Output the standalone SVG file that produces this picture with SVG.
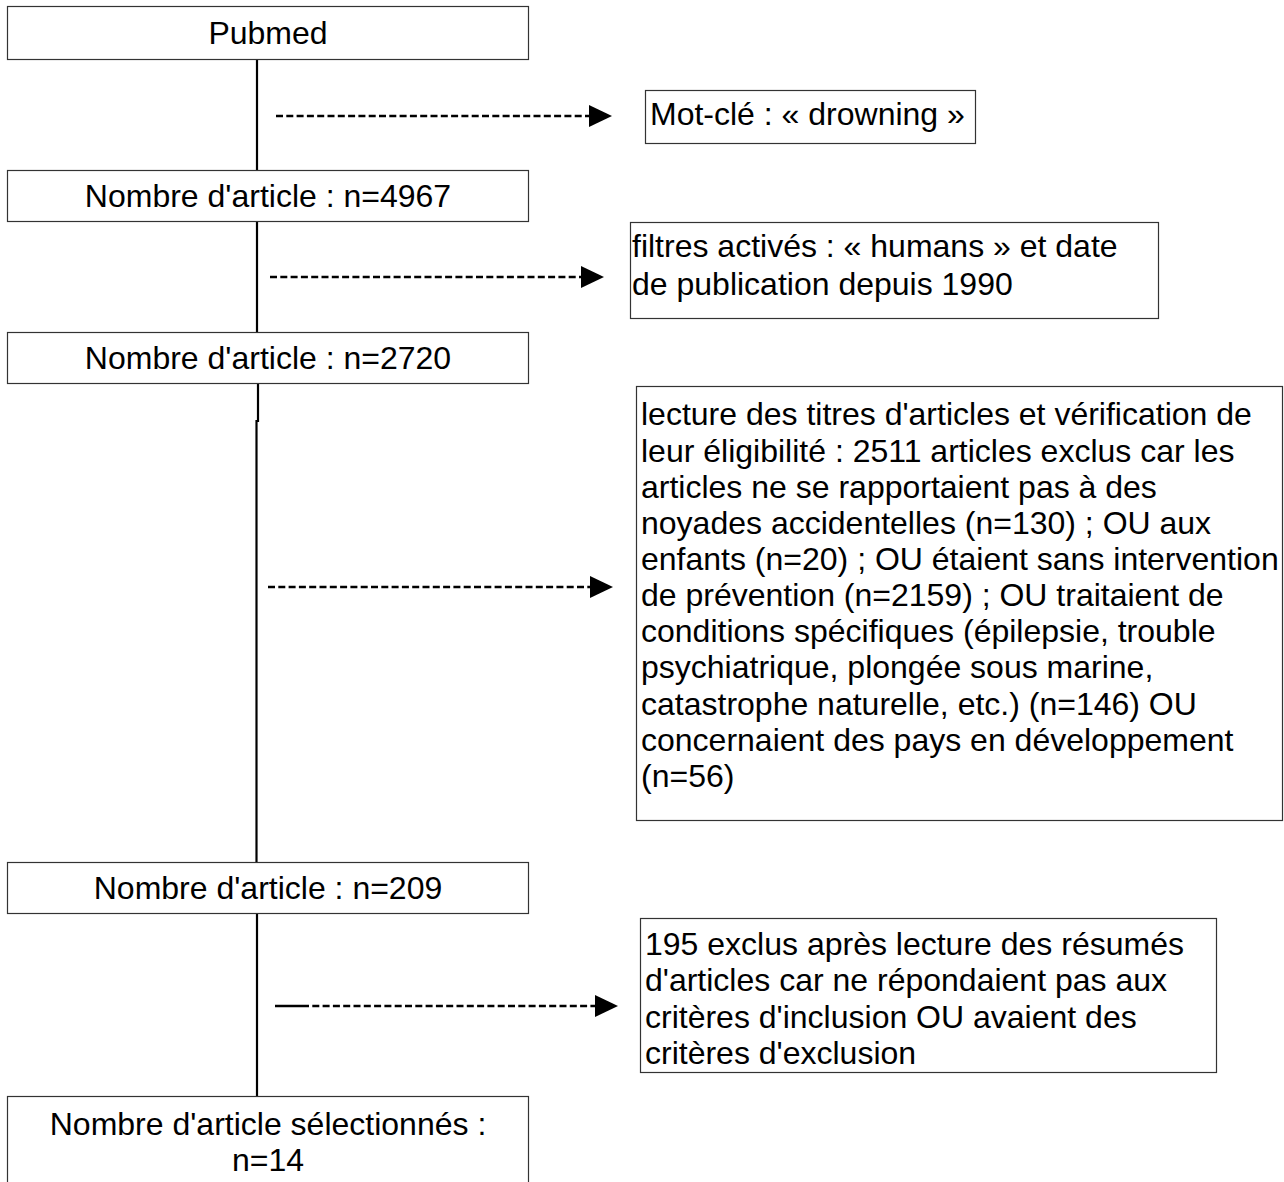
<svg xmlns="http://www.w3.org/2000/svg" width="1284" height="1182" viewBox="0 0 1284 1182">
<style>
.box{fill:#fff;stroke:#333;stroke-width:1.2}
.t{font-family:"Liberation Sans",Arial,sans-serif;font-size:32px;fill:#000}
.c{text-anchor:middle}
.flow{stroke:#000;stroke-width:2.2;fill:none}
.dash{stroke:#000;stroke-width:2.5;fill:none;stroke-dasharray:7 3.3}
.head{fill:#000}
</style>
<rect width="1284" height="1182" fill="#fff"/>
<g id="connectors">
<line class="flow" x1="257" y1="59" x2="257" y2="170"/>
<line class="flow" x1="257" y1="221" x2="257" y2="332"/>
<line class="flow" x1="258" y1="383" x2="258" y2="422"/>
<line class="flow" x1="256.5" y1="420" x2="256.5" y2="862"/>
<line class="flow" x1="257" y1="913" x2="257" y2="1096"/>
<line class="dash" x1="276" y1="116" x2="589" y2="116"/>
<path class="head" d="M589,105 L612,116 L589,127 Z"/>
<line class="dash" x1="270" y1="277" x2="581" y2="277"/>
<path class="head" d="M581,266 L604,277 L581,288 Z"/>
<line class="dash" x1="268" y1="587" x2="590" y2="587"/>
<path class="head" d="M590,576 L613,587 L590,598 Z"/>
<line class="flow" x1="275" y1="1006" x2="302" y2="1006" style="stroke-width:2.5"/>
<line class="dash" x1="302" y1="1006" x2="595" y2="1006"/>
<path class="head" d="M595,995 L618,1006 L595,1017 Z"/>
</g>
<g id="n-pubmed">
<rect class="box" x="7.5" y="6.5" width="521" height="53"/>
<text class="t c" x="268" y="44">Pubmed</text>
</g>
<g id="n-motcle">
<rect class="box" x="645.5" y="90.5" width="330" height="53"/>
<text class="t" x="650" y="125">Mot-clé : « drowning »</text>
</g>
<g id="n-4967">
<rect class="box" x="7.5" y="170.5" width="521" height="51"/>
<text class="t c" x="268" y="207">Nombre d'article : n=4967</text>
</g>
<g id="n-filtres">
<rect class="box" x="630.5" y="222.5" width="528" height="96"/>
<text class="t" x="632" y="257">filtres activés : « humans » et date</text>
<text class="t" x="632" y="295">de publication depuis 1990</text>
</g>
<g id="n-2720">
<rect class="box" x="7.5" y="332.5" width="521" height="51"/>
<text class="t c" x="268" y="369">Nombre d'article : n=2720</text>
</g>
<g id="n-lecture">
<rect class="box" x="636.5" y="386.5" width="646" height="434"/>
<text class="t" x="641" y="425">lecture des titres d'articles et vérification de</text>
<text class="t" x="641" y="462">leur éligibilité : 2511 articles exclus car les</text>
<text class="t" x="641" y="498">articles ne se rapportaient pas à des</text>
<text class="t" x="641" y="534">noyades accidentelles (n=130) ; OU aux</text>
<text class="t" x="641" y="570">enfants (n=20) ; OU étaient sans intervention</text>
<text class="t" x="641" y="606">de prévention (n=2159) ; OU traitaient de</text>
<text class="t" x="641" y="642">conditions spécifiques (épilepsie, trouble</text>
<text class="t" x="641" y="678">psychiatrique, plongée sous marine,</text>
<text class="t" x="641" y="715">catastrophe naturelle, etc.) (n=146) OU</text>
<text class="t" x="641" y="751">concernaient des pays en développement</text>
<text class="t" x="641" y="787">(n=56)</text>
</g>
<g id="n-209">
<rect class="box" x="7.5" y="862.5" width="521" height="51"/>
<text class="t c" x="268" y="899">Nombre d'article : n=209</text>
</g>
<g id="n-195">
<rect class="box" x="640.5" y="918.5" width="576" height="154"/>
<text class="t" x="645" y="955">195 exclus après lecture des résumés</text>
<text class="t" x="645" y="991">d'articles car ne répondaient pas aux</text>
<text class="t" x="645" y="1028">critères d'inclusion OU avaient des</text>
<text class="t" x="645" y="1064">critères d'exclusion</text>
</g>
<g id="n-14">
<rect class="box" x="7.5" y="1096.5" width="521" height="100"/>
<text class="t c" x="268" y="1135">Nombre d'article sélectionnés :</text>
<text class="t c" x="268" y="1171">n=14</text>
</g>
</svg>
